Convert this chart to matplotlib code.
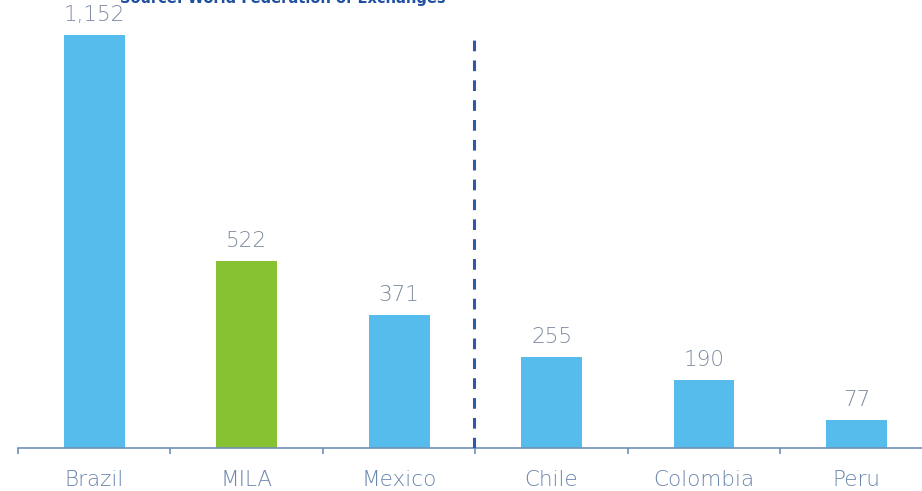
import matplotlib.pyplot as plt

# ---------------------------------------------------
countries = ["Brazil", "MILA", "Mexico", "Chile", "Colombia", "Peru"]
values = [1152, 522, 371, 255, 190, 77]
value_labels = ["1,152", "522", "371", "255", "190", "77"]
# ---------------------------------------------------

blue = "#55BCEB"
green = "#86C232"
axis_col = "#7090B8"
label_col = "#6A86AD"
value_col = "#7D8AA0"

plt.rcParams['font.family'] = ['DejaVu Sans']

fig = plt.figure(figsize=(9.22, 4.91), dpi=100)
ax = fig.add_axes([18 / 922, 1 - 448 / 491, 1 - 18 / 922, 448 / 491])

colors = [green if c == "MILA" else blue for c in countries]
x = list(range(len(countries)))
ax.bar(x, values, width=0.40, color=colors, zorder=2)

for xi, v, lab in zip(x, values, value_labels):
    ax.text(xi, v + 28, lab, ha='center', va='bottom', fontsize=15.5,
            color=value_col, fontweight='light')

ax.plot([2.49, 2.49], [0, 1138], linestyle=(0, (3.5, 3)), color="#2F58A8",
        linewidth=2.2, zorder=3)

ax.set_xlim(-0.5, 5.43)
ax.set_ylim(0, 1250)

for s in ['top', 'right', 'left']:
    ax.spines[s].set_visible(False)
ax.spines['bottom'].set_color(axis_col)
ax.spines['bottom'].set_linewidth(1.2)
ax.set_yticks([])

ax.set_xticks(x)
ax.set_xticklabels(countries, fontsize=15.5, color=label_col, fontweight='light')
ax.tick_params(axis='x', which='major', length=0, pad=16)
ax.set_xticks([i - 0.5 for i in range(len(countries))], minor=True)
ax.tick_params(axis='x', which='minor', length=4, width=1.2, color=axis_col)

# source line is clipped by the top edge in the original
fig.text(120 / 922, 1 - 3 / 491, "Source: World Federation of Exchanges",
         ha='left', va='baseline', fontsize=10.5, color="#1F4FA0",
         fontweight='bold')

fig.savefig("out.png", dpi=100)
